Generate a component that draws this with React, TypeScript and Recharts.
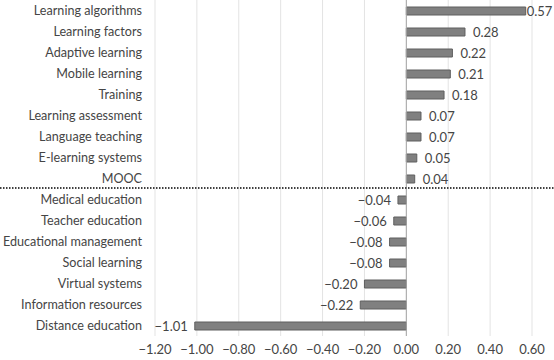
import React from "react";
import {
  BarChart,
  Bar,
  XAxis,
  YAxis,
  CartesianGrid,
  ReferenceLine,
  LabelList,
} from "recharts";

const categories = [
  "Learning algorithms",
  "Learning factors",
  "Adaptive learning",
  "Mobile learning",
  "Training",
  "Learning assessment",
  "Language teaching",
  "E-learning systems",
  "MOOC",
  "Medical education",
  "Teacher education",
  "Educational management",
  "Social learning",
  "Virtual systems",
  "Information resources",
  "Distance education",
];

const values = [
  0.57, 0.28, 0.22, 0.21, 0.18, 0.07, 0.07, 0.05, 0.04, -0.04, -0.06, -0.08,
  -0.08, -0.2, -0.22, -1.01,
];

const xTicks = [-1.2, -1.0, -0.8, -0.6, -0.4, -0.2, 0, 0.2, 0.4, 0.6];

const data = categories.map((name, i) => ({ name, value: values[i] }));

const WIDTH = 554;
const HEIGHT = 360;
const FONT = "Lato, 'Open Sans', sans-serif";
const TEXT = "#454545";

// minus sign like the original (U+2212)
const fmt = (v: number) => {
  const s = Math.abs(v).toFixed(2);
  return v < 0 ? `\u2212${s}` : s;
};

// category names on one line, right-aligned
function CategoryTick(props: any) {
  const { x, y, payload } = props;
  return (
    <text
      x={x}
      y={y}
      dy="0.35em"
      textAnchor="end"
      fill={TEXT}
      fontSize={12.6}
      fontFamily={FONT}
    >
      {payload.value}
    </text>
  );
}

// value labels: right of positive bars, left of negative ones,
// pulled in when there is no room at the edge
function ValueLabel(props: any) {
  const { x, y, width, height, value } = props;
  const end = x + width;
  const cy = y + height / 2;
  let tx = value >= 0 ? end + 8 : end - 7;
  if (value >= 0 && tx + 25 > WIDTH) tx = end + 1;
  return (
    <text
      x={tx}
      y={cy}
      dy="0.35em"
      textAnchor={value >= 0 ? "start" : "end"}
      fill={TEXT}
      fontSize={13}
      fontFamily={FONT}
    >
      {fmt(value)}
    </text>
  );
}

export default function App() {
  return (
    <div
      style={{
        position: "absolute",
        left: 0,
        top: 0,
        width: WIDTH,
        height: HEIGHT,
        background: "#fff",
      }}
    >
      <BarChart
        width={WIDTH}
        height={HEIGHT}
        data={data}
        layout="vertical"
        margin={{ top: 0, right: 22, bottom: 0, left: 0 }}
        barSize={8}
      >
        <CartesianGrid horizontal={false} stroke="#e3e3e3" />
        <XAxis
          type="number"
          domain={[-1.2, 0.6]}
          ticks={xTicks}
          tickFormatter={fmt}
          axisLine={false}
          tickLine={false}
          tickSize={0}
          tickMargin={9}
          height={24}
          interval={0}
          tick={{ fill: TEXT, fontSize: 13, fontFamily: FONT }}
        />
        <YAxis
          type="category"
          dataKey="name"
          width={155}
          axisLine={false}
          tickLine={false}
          tickSize={0}
          tickMargin={13}
          interval={0}
          tick={<CategoryTick />}
        />
        <ReferenceLine x={0} stroke="#a6a6a6" strokeWidth={1} />
        <Bar
          dataKey="value"
          fill="#808080"
          stroke="#5f5f5f"
          strokeWidth={1}
          isAnimationActive={false}
        >
          <LabelList dataKey="value" content={ValueLabel} />
        </Bar>
      </BarChart>
      <svg
        width={WIDTH}
        height={HEIGHT}
        style={{ position: "absolute", left: 0, top: 0, pointerEvents: "none" }}
      >
        <line
          x1={0}
          x2={WIDTH}
          y1={188}
          y2={188}
          stroke="#404040"
          strokeWidth={2}
          strokeDasharray="1.5 1.5"
        />
      </svg>
    </div>
  );
}
